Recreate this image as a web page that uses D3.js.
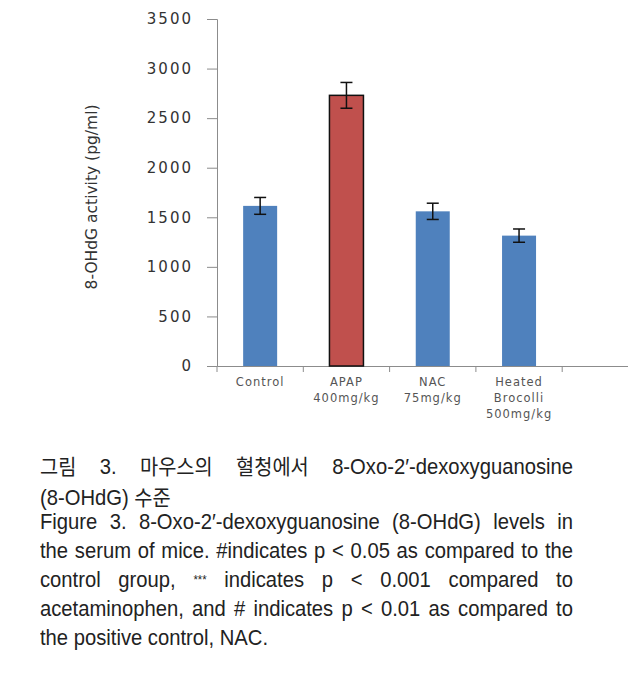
<!DOCTYPE html>
<html>
<head>
<meta charset="utf-8">
<script src="https://cdn.jsdelivr.net/npm/d3@7"></script>
<style>
  body { margin: 0; background: #fff; width: 628px; height: 676px; overflow: hidden; }
  #chart { position: absolute; left: 0; top: 0; }
  .cap { position: absolute; left: 40px; width: 567px; transform: scaleX(0.94); transform-origin: 0 0; font-family: "Liberation Sans", "Noto Sans CJK KR", sans-serif; font-size: 21.5px; color: #222; line-height: 29px; }
  .cap div { text-align: justify; text-align-last: justify; white-space: nowrap; }
  .cap div.last { text-align-last: left; }
  .ko { font-family: "Noto Sans CJK KR", sans-serif; font-size: 21px; }
</style>
</head>
<body>
<div id="chart"></div>
<div class="cap" style="top:451px">
  <div><span class="ko">그림</span> 3. <span class="ko">마우스의</span> <span class="ko">혈청에서</span> 8-Oxo-2′-dexoxyguanosine</div>
  <div class="last">(8-OHdG) <span class="ko">수준</span></div>
</div>
<div class="cap" style="top:508px">
  <div>Figure 3. 8-Oxo-2′-dexoxyguanosine (8-OHdG) levels in</div>
  <div>the serum of mice. #indicates p &lt; 0.05 as compared to the</div>
  <div>control group, <span style="font-size:12px;vertical-align:3px">***</span> indicates p &lt; 0.001 compared to</div>
  <div>acetaminophen, and # indicates p &lt; 0.01 as compared to</div>
  <div class="last">the positive control, NAC.</div>
</div>
<script>
'use strict';

const groups = ["Control", "APAP", "NAC", "Heated", ""];
const groupLabels = [["Control"], ["APAP", "400mg/kg"], ["NAC", "75mg/kg"], ["Heated", "Brocolli", "500mg/kg"], []];
const means = [1615, 2730, 1560, 1315];
const errors = [85, 130, 82, 67];
const barColors = ["#4f81bd", "#c0504d", "#4f81bd", "#4f81bd"];
const yTicks = [0, 500, 1000, 1500, 2000, 2500, 3000, 3500];

const width = 628, height = 440;
const margin = { top: 19, left: 217, bottom: 366 };

const svg = d3.select("#chart").append("svg")
    .attr("width", width)
    .attr("height", height);

const x = d3.scaleBand()
    .domain(groups)
    .range([margin.left, margin.left + 86.3 * groups.length])
    .paddingInner(0)
    .paddingOuter(0);

const y = d3.scaleLinear()
    .domain([0, 3500])
    .range([margin.bottom, margin.top]);

const data = means.map((m, i) => ({ g: groups[i], m: m, e: errors[i], c: barColors[i] }));

// y axis
const yAxis = svg.append("g")
    .attr("transform", `translate(${margin.left},0)`)
    .call(d3.axisLeft(y).tickValues(yTicks).tickSize(10).tickPadding(14).tickFormat(d3.format("d")));
yAxis.select(".domain").attr("stroke", "#8c8c8c");
yAxis.selectAll(".tick line").attr("stroke", "#8c8c8c");
yAxis.selectAll("text")
    .attr("font-family", "DejaVu Sans, sans-serif")
    .attr("font-size", 15)
    .attr("letter-spacing", 2)
    .attr("fill", "#333");

// x axis
const xAxis = svg.append("g")
    .attr("transform", `translate(0,${margin.bottom})`)
    .call(d3.axisBottom(x).tickSize(0).tickFormat(""));
xAxis.select(".domain").attr("stroke", "#8c8c8c");
xAxis.selectAll(".tick line").remove();
svg.append("g")
    .selectAll("line")
    .data(groups)
    .join("line")
    .attr("x1", d => x(d))
    .attr("x2", d => x(d))
    .attr("y1", margin.bottom)
    .attr("y2", margin.bottom + 6)
    .attr("stroke", "#8c8c8c");

// category labels
svg.append("g")
    .selectAll("text")
    .data(groups.map((g, i) => ({ g: g, lines: groupLabels[i] })))
    .join("text")
    .attr("x", d => x(d.g) + x.bandwidth() / 2)
    .attr("y", margin.bottom + 20)
    .attr("text-anchor", "middle")
    .attr("font-family", "DejaVu Sans, sans-serif")
    .attr("font-size", 11.5)
    .attr("letter-spacing", 1)
    .attr("fill", "#555")
    .selectAll("tspan")
    .data(d => d.lines.map(l => ({ l: l, cx: x(d.g) + x.bandwidth() / 2 })))
    .join("tspan")
    .attr("x", d => d.cx)
    .attr("dy", (d, i) => i === 0 ? 0 : 16)
    .text(d => d.l);

// bars
const barW = 34;
svg.append("g")
    .selectAll("rect")
    .data(data)
    .join("rect")
    .attr("x", d => x(d.g) + x.bandwidth() / 2 - barW / 2)
    .attr("y", d => y(d.m))
    .attr("width", barW)
    .attr("height", d => y(0) - y(d.m))
    .attr("fill", d => d.c)
    .attr("stroke", d => d.c === "#c0504d" ? "#111" : "none")
    .attr("stroke-width", 1.5);

// error bars
const eb = svg.append("g").attr("stroke", "#111").attr("stroke-width", 1.5);
data.forEach(d => {
    const cx = x(d.g) + x.bandwidth() / 2;
    eb.append("line").attr("x1", cx).attr("x2", cx).attr("y1", y(d.m + d.e)).attr("y2", y(d.m - d.e));
    eb.append("line").attr("x1", cx - 6).attr("x2", cx + 6).attr("y1", y(d.m + d.e)).attr("y2", y(d.m + d.e));
    eb.append("line").attr("x1", cx - 6).attr("x2", cx + 6).attr("y1", y(d.m - d.e)).attr("y2", y(d.m - d.e));
});

// y axis title
svg.append("text")
    .attr("transform", `translate(97,197) rotate(-90)`)
    .attr("text-anchor", "middle")
    .attr("font-family", "DejaVu Sans, sans-serif")
    .attr("font-size", 15.5)
    .attr("fill", "#333")
    .text("8-OHdG activity (pg/ml)");
</script>
</body>
</html>
